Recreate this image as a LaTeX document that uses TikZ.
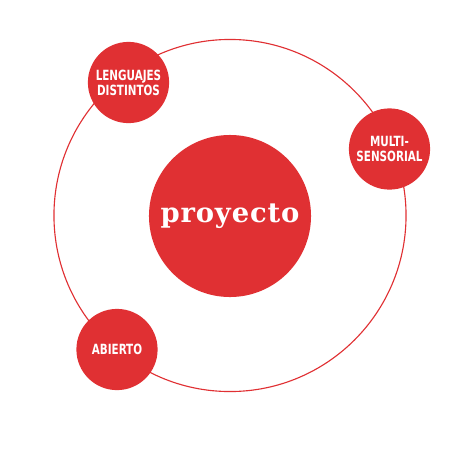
\documentclass[tikz,border=0pt]{standalone}
\usepackage{fontspec}
\usepackage{tikz}
\usetikzlibrary{positioning}
\newfontfamily\labelfont[FakeStretch=0.82]{DejaVu Sans Condensed}
\newfontfamily\titlefont[LetterSpace=3]{DejaVu Serif}
\definecolor{orbitred}{RGB}{224,48,51}
\tikzstyle{orbit} = [circle, draw=orbitred, line width=0.8pt, minimum size=8.8cm, inner sep=0pt]
\tikzstyle{core} = [circle, fill=orbitred, text=white, minimum size=4.05cm, inner sep=0pt, font=\titlefont\bfseries\fontsize{19.5}{24}\selectfont]
\tikzstyle{satellite} = [circle, fill=orbitred, text=white, minimum size=2.03cm, inner sep=0pt, align=center, font=\labelfont\bfseries\fontsize{10}{10.7}\selectfont]

\begin{document}
\begin{tikzpicture}[x=0.025cm, y=-0.025cm]
\useasboundingbox (0,0) rectangle (450,450);
\node (ring) [orbit] at (230,215.5) {};
\node (proj) [core] at (230,216) {proyecto};
\node (leng) [satellite] at (128.5,82.5) {LENGUAJES\\DISTINTOS};
\node (multi) [satellite] at (389.5,149) {MULTI-\\SENSORIAL};
\node (abierto) [satellite] at (117,349.5) {ABIERTO};
\end{tikzpicture}
\end{document}
